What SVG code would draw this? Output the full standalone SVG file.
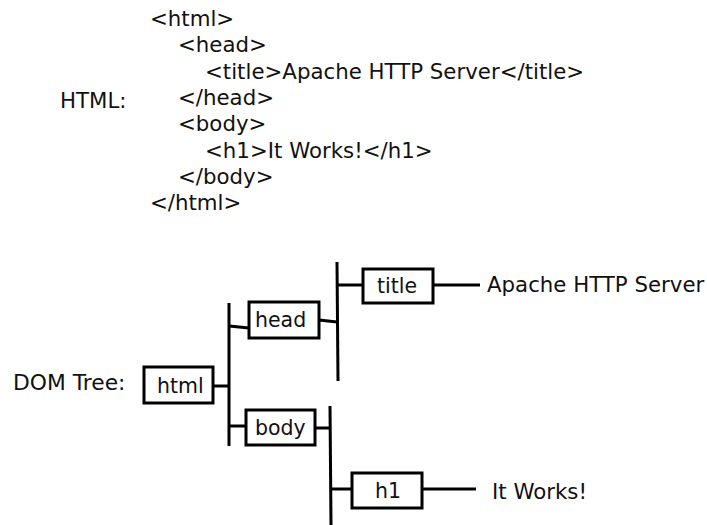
<svg xmlns="http://www.w3.org/2000/svg" width="707" height="525" viewBox="0 0 707 525">
<style>
text{font-family:"DejaVu Sans",sans-serif;font-size:21.3px;fill:#111}
.lbl{font-size:20.5px}
.box{fill:#fff;stroke:#000;stroke-width:3}
.ln{stroke:#000;stroke-width:3;fill:none}
</style>
<rect width="707" height="525" fill="#fff"/>
<g id="html-source">
<text x="60" y="108">HTML:</text>
<text x="150" y="26">&lt;html&gt;</text>
<text x="178" y="52.3">&lt;head&gt;</text>
<text x="205" y="78.6">&lt;title&gt;Apache HTTP Server&lt;/title&gt;</text>
<text x="178" y="104.9">&lt;/head&gt;</text>
<text x="178" y="131.2">&lt;body&gt;</text>
<text x="205" y="157.5">&lt;h1&gt;It Works!&lt;/h1&gt;</text>
<text x="178" y="183.8">&lt;/body&gt;</text>
<text x="150" y="210">&lt;/html&gt;</text>
</g>
<text x="13" y="390" style="font-size:21.8px">DOM Tree:</text>
<g id="connectors">
<line class="ln" x1="229" y1="303" x2="229" y2="446"/>
<line class="ln" x1="213" y1="386" x2="229" y2="386"/>
<line class="ln" x1="229" y1="326" x2="249" y2="328"/>
<line class="ln" x1="229" y1="426" x2="246" y2="426"/>
<line class="ln" x1="337" y1="262" x2="338" y2="381"/>
<line class="ln" x1="319" y1="320" x2="337" y2="322"/>
<line class="ln" x1="337" y1="285" x2="363" y2="285"/>
<line class="ln" x1="433" y1="285" x2="480" y2="285"/>
<line class="ln" x1="330" y1="406" x2="331" y2="525"/>
<line class="ln" x1="315" y1="428" x2="330" y2="428"/>
<line class="ln" x1="330" y1="489" x2="352" y2="489"/>
<line class="ln" x1="422" y1="489" x2="476" y2="489"/>
</g>
<g id="node-html"><rect class="box" x="144" y="367" width="69" height="36"/><text class="lbl" x="157" y="393">html</text></g>
<g id="node-head"><rect class="box" x="249" y="302" width="70" height="36"/><text class="lbl" x="255" y="327">head</text></g>
<g id="node-body"><rect class="box" x="246" y="410" width="69" height="35"/><text class="lbl" x="255" y="435">body</text></g>
<g id="node-title"><rect class="box" x="363" y="269" width="70" height="34"/><text class="lbl" x="377" y="293">title</text></g>
<g id="node-h1"><rect class="box" x="352" y="473" width="70" height="35"/><text class="lbl" x="375" y="498">h1</text></g>
<text x="487" y="292">Apache HTTP Server</text>
<text x="492" y="499">It Works!</text>
</svg>
